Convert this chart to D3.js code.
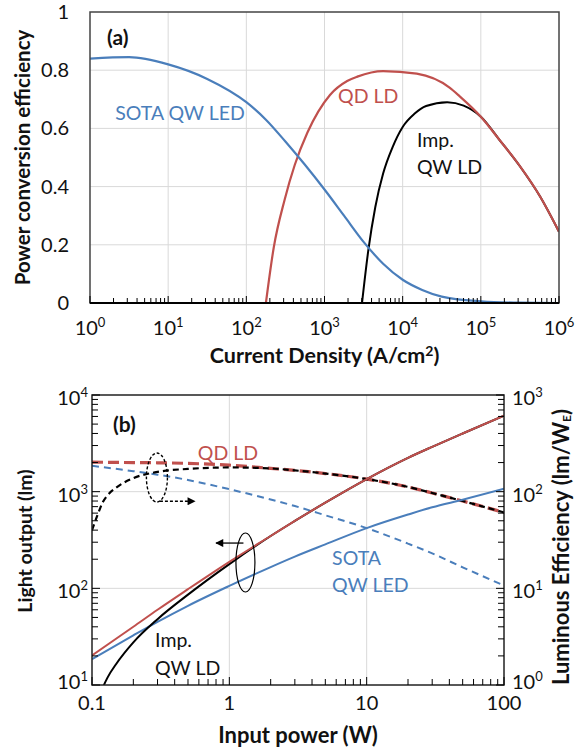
<!DOCTYPE html>
<html>
<head>
<meta charset="utf-8">
<script src="https://cdn.jsdelivr.net/npm/d3@7"></script>
<style>
  body { margin: 0; background: #fff; }
  svg { display: block; }
  text { font-family: Lato, "Open Sans", "DejaVu Sans", sans-serif; fill: #111; }
</style>
</head>
<body>
<svg id="chart" width="576" height="755"></svg>
<script>
// ---------- Panel (a): power conversion efficiency vs current density ----------
const ledJ   = [1, 3.16, 10, 31.6, 100, 178, 316, 562, 1000, 1778, 3162, 5623, 1e4, 17783, 31623, 1e5, 316228, 1e6];
const ledPCE = [0.84, 0.845, 0.82, 0.77, 0.69, 0.63, 0.555, 0.475, 0.39, 0.30, 0.21, 0.135, 0.08, 0.045, 0.022, 0.006, 0.001, 0.0];

const qdJ   = [178, 224, 309, 417, 603, 1175, 1950, 2630, 5623, 15136, 39811, 53703, 1e5, 173780, 316228, 575440, 1e6];
const qdPCE = [0, 0.19, 0.355, 0.475, 0.585, 0.715, 0.763, 0.778, 0.797, 0.788, 0.74, 0.71, 0.64, 0.56, 0.47, 0.365, 0.245];

const impJ   = [3020, 3631, 4467, 5623, 7413, 1e4, 14125, 19953, 37154, 60256, 1e5, 173780, 316228, 575440, 1e6];
const impPCE = [0, 0.18, 0.33, 0.445, 0.535, 0.605, 0.65, 0.677, 0.69, 0.678, 0.64, 0.56, 0.47, 0.365, 0.245];

const xTicksA = [1, 10, 100, 1e3, 1e4, 1e5, 1e6];
const yTicksA = [0, 0.2, 0.4, 0.6, 0.8, 1];

// ---------- Panel (b): light output and luminous efficiency vs input power ----------
const power    = [0.1, 0.2, 0.3, 0.5, 1, 2, 3, 5, 10, 20, 30, 50, 100];
const qdLight  = [20.2, 40, 60, 98, 188, 348, 498, 770, 1350, 2240, 2910, 4000, 6100];
const qdEff    = [202, 200, 199, 196, 188, 174, 166, 154, 135, 112, 97, 80, 61];
const ledLight = [18.5, 32.6, 45, 66, 106, 166, 213, 285, 420, 580, 690, 825, 1070];
const ledEff   = [185, 163, 150, 132, 106, 83, 71, 57, 42, 29, 23, 16.5, 10.7];

const impPower = [0.1, 0.11, 0.12, 0.13, 0.15, 0.2, 0.3, 0.5, 1, 2, 3, 5, 10, 20, 30, 50, 100];
const impLight = [4.0, 6.4, 9.4, 12, 16.5, 27.6, 48, 86, 178, 348, 498, 770, 1350, 2240, 2910, 4000, 6100];
const impEff   = [40, 58, 78, 92, 110, 138, 160, 172, 178, 174, 166, 154, 135, 112, 97, 80, 61];

const xTickLabelsB = ["0.1", "1", "10", "100"];
const xTicksB = [0.1, 1, 10, 100];
const yTicksBL = [10, 100, 1000, 10000];
const yTicksBR = [1, 10, 100, 1000];

const BLUE = "#4a7ebb", RED = "#c0504d", BLACK = "#000", GRID = "#d9d9d9";

const svg = d3.select("#chart");
const defs = svg.append("defs");
const zip = (xs, ys) => xs.map((x, i) => [x, ys[i]]);

// log-axis label "10^k"
function powLabel(sel, k) {
  sel.append("tspan").text("10");
  sel.append("tspan").attr("dy", -8).attr("font-size", 13).text(k);
}

// ============ Panel (a) ============
const A = { l: 90, r: 559, t: 12, b: 303 };
const xA = d3.scaleLog().domain([1, 1e6]).range([A.l, A.r]);
const yA = d3.scaleLinear().domain([0, 1]).range([A.b, A.t]);
const gA = svg.append("g");

defs.append("clipPath").attr("id", "clipA")
  .append("rect").attr("x", A.l).attr("y", A.t).attr("width", A.r - A.l).attr("height", A.b - A.t);

// grid
gA.selectAll(".gx").data(xTicksA.slice(1, -1)).join("line")
  .attr("x1", d => xA(d)).attr("x2", d => xA(d)).attr("y1", A.t).attr("y2", A.b)
  .attr("stroke", GRID).attr("stroke-width", 1);
gA.selectAll(".gy").data(yTicksA.slice(1, -1)).join("line")
  .attr("x1", A.l).attr("x2", A.r).attr("y1", d => yA(d)).attr("y2", d => yA(d))
  .attr("stroke", GRID).attr("stroke-width", 1);

// curves
const lineA = d3.line().x(d => xA(d[0])).y(d => yA(d[1])).curve(d3.curveMonotoneX);
const curvesA = gA.append("g").attr("clip-path", "url(#clipA)");
curvesA.append("path").datum(zip(impJ, impPCE)).attr("d", lineA)
  .attr("fill", "none").attr("stroke", BLACK).attr("stroke-width", 2);
curvesA.append("path").datum(zip(qdJ, qdPCE)).attr("d", lineA)
  .attr("fill", "none").attr("stroke", RED).attr("stroke-width", 2.2);
curvesA.append("path").datum(zip(ledJ, ledPCE)).attr("d", lineA)
  .attr("fill", "none").attr("stroke", BLUE).attr("stroke-width", 2.2);

// frame
gA.append("rect").attr("x", A.l).attr("y", A.t).attr("width", A.r - A.l).attr("height", A.b - A.t)
  .attr("fill", "none").attr("stroke", "#444").attr("stroke-width", 1.5);
gA.append("line").attr("x1", A.l).attr("x2", A.r).attr("y1", A.b).attr("y2", A.b)
  .attr("stroke", "#000").attr("stroke-width", 2);

// bottom log ticks (inside)
const minorA = [];
for (let e = 0; e < 6; e++) for (let m = 2; m <= 9; m++) minorA.push(m * Math.pow(10, e));
gA.selectAll(".mt").data(minorA).join("line")
  .attr("x1", d => xA(d)).attr("x2", d => xA(d)).attr("y1", A.b).attr("y2", A.b - 5)
  .attr("stroke", "#000").attr("stroke-width", 1);
gA.selectAll(".Mt").data(xTicksA).join("line")
  .attr("x1", d => xA(d)).attr("x2", d => xA(d)).attr("y1", A.b).attr("y2", A.b - 7)
  .attr("stroke", "#000").attr("stroke-width", 1);

// tick labels
gA.selectAll(".xl").data(xTicksA).join("text")
  .attr("x", d => xA(d)).attr("y", 335).attr("text-anchor", "middle").attr("font-size", 20)
  .each(function (d) { powLabel(d3.select(this), Math.round(Math.log10(d))); });
gA.selectAll(".yl").data(yTicksA).join("text")
  .attr("x", A.l - 21).attr("y", d => yA(d) + 7).attr("text-anchor", "end").attr("font-size", 20)
  .text(d => d === 0 || d === 1 ? String(d) : d.toFixed(1));

// axis titles
const tA = gA.append("text").attr("x", (A.l + A.r) / 2).attr("y", 363)
  .attr("text-anchor", "middle").attr("font-size", 21.5).attr("font-weight", "bold");
tA.append("tspan").text("Current Density (A/cm");
tA.append("tspan").attr("dy", -7).attr("font-size", 14).text("2");
tA.append("tspan").attr("dy", 7).text(")");
gA.append("text").attr("transform", `translate(30,${(A.t + A.b) / 2}) rotate(-90)`)
  .attr("text-anchor", "middle").attr("font-size", 20.5).attr("font-weight", "bold")
  .text("Power conversion efficiency");

// annotations
gA.append("text").attr("x", xA(1) + 17).attr("y", yA(0.885)).attr("font-size", 21).attr("font-weight", "bold").text("(a)");
gA.append("text").attr("x", xA(2.1)).attr("y", yA(0.63)).attr("font-size", 19.5).style("fill", BLUE).text("SOTA QW LED");
gA.append("text").attr("x", xA(1490)).attr("y", yA(0.687)).attr("font-size", 19.5).style("fill", RED).text("QD LD");
gA.append("text").attr("x", xA(15200)).attr("y", yA(0.536)).attr("font-size", 19.5).text("Imp.");
gA.append("text").attr("x", xA(15200)).attr("y", yA(0.443)).attr("font-size", 19.5).text("QW LD");

// ============ Panel (b) ============
const B = { l: 92, r: 504, t: 395, b: 685 };
const xB = d3.scaleLog().domain([0.1, 100]).range([B.l, B.r]);
const yBL = d3.scaleLog().domain([10, 10000]).range([B.b, B.t]);
const yBR = d3.scaleLog().domain([1, 1000]).range([B.b, B.t]);
const gB = svg.append("g");

defs.append("clipPath").attr("id", "clipB")
  .append("rect").attr("x", B.l).attr("y", B.t).attr("width", B.r - B.l).attr("height", B.b - B.t);

defs.append("marker").attr("id", "headR").attr("viewBox", "0 0 10 10").attr("refX", 9).attr("refY", 5)
  .attr("markerWidth", 9).attr("markerHeight", 8).attr("markerUnits", "userSpaceOnUse").attr("orient", "auto")
  .append("path").attr("d", "M0,0 L10,5 L0,10 Z").attr("fill", "#000");

// grid
gB.selectAll(".gx").data([1, 10]).join("line")
  .attr("x1", d => xB(d)).attr("x2", d => xB(d)).attr("y1", B.t).attr("y2", B.b)
  .attr("stroke", GRID).attr("stroke-width", 1);
gB.selectAll(".gy").data([100, 1000]).join("line")
  .attr("x1", B.l).attr("x2", B.r).attr("y1", d => yBL(d)).attr("y2", d => yBL(d))
  .attr("stroke", GRID).attr("stroke-width", 1);

const curvesB = gB.append("g").attr("clip-path", "url(#clipB)");
const lineL = d3.line().x(d => xB(d[0])).y(d => yBL(d[1])).curve(d3.curveMonotoneX);
const lineR = d3.line().x(d => xB(d[0])).y(d => yBR(d[1])).curve(d3.curveMonotoneX);

// efficiencies (right axis, dashed)
curvesB.append("path").datum(zip(power, ledEff)).attr("d", lineR)
  .attr("fill", "none").attr("stroke", BLUE).attr("stroke-width", 2).attr("stroke-dasharray", "7,5");
curvesB.append("path").datum(zip(power, qdEff)).attr("d", lineR)
  .attr("fill", "none").attr("stroke", RED).attr("stroke-width", 3.2).attr("stroke-dasharray", "11,5");
curvesB.append("path").datum(zip(impPower, impEff)).attr("d", lineR)
  .attr("fill", "none").attr("stroke", BLACK).attr("stroke-width", 2.2).attr("stroke-dasharray", "6,4");

// light output (left axis, solid)
curvesB.append("path").datum(zip(power, ledLight)).attr("d", lineL)
  .attr("fill", "none").attr("stroke", BLUE).attr("stroke-width", 2);
curvesB.append("path").datum(zip(impPower, impLight)).attr("d", lineL)
  .attr("fill", "none").attr("stroke", BLACK).attr("stroke-width", 2);
curvesB.append("path").datum(zip(power, qdLight)).attr("d", lineL)
  .attr("fill", "none").attr("stroke", RED).attr("stroke-width", 2);

// frame
gB.append("rect").attr("x", B.l).attr("y", B.t).attr("width", B.r - B.l).attr("height", B.b - B.t)
  .attr("fill", "none").attr("stroke", "#222").attr("stroke-width", 1.5);

// log ticks on left, right and bottom (inside)
const minorL = [], minorX = [];
for (let e = 1; e < 4; e++) for (let m = 2; m <= 9; m++) minorL.push(m * Math.pow(10, e));
for (let e = -1; e < 2; e++) for (let m = 2; m <= 9; m++) minorX.push(m * Math.pow(10, e));
const tickG = gB.append("g").attr("stroke", "#000").attr("stroke-width", 1);
tickG.selectAll(".tl").data(minorL.concat(yTicksBL)).join("line")
  .attr("x1", B.l).attr("x2", d => B.l + (yTicksBL.includes(d) ? 8 : 6))
  .attr("y1", d => yBL(d)).attr("y2", d => yBL(d));
tickG.selectAll(".tr").data(minorL.concat(yTicksBL)).join("line")
  .attr("x1", B.r).attr("x2", d => B.r - (yTicksBL.includes(d) ? 8 : 6))
  .attr("y1", d => yBL(d)).attr("y2", d => yBL(d));
tickG.selectAll(".tb").data(minorX.concat(xTicksB)).join("line")
  .attr("x1", d => xB(d)).attr("x2", d => xB(d))
  .attr("y1", B.b).attr("y2", d => B.b - (xTicksB.includes(d) ? 8 : 6));

// tick labels
gB.selectAll(".yl").data(yTicksBL).join("text")
  .attr("x", B.l - 4).attr("y", d => yBL(d) + (d === 10 ? 4 : 10)).attr("text-anchor", "end").attr("font-size", 20)
  .each(function (d) { powLabel(d3.select(this), Math.round(Math.log10(d))); });
gB.selectAll(".yr").data(yTicksBR).join("text")
  .attr("x", B.r + 8).attr("y", d => yBR(d) + (d === 1 ? 4 : 10)).attr("text-anchor", "start").attr("font-size", 20)
  .each(function (d) { powLabel(d3.select(this), Math.round(Math.log10(d))); });
gB.selectAll(".xl").data(xTicksB).join("text")
  .attr("x", d => xB(d)).attr("y", 710).attr("text-anchor", "middle").attr("font-size", 20)
  .text((d, i) => xTickLabelsB[i]);

// axis titles
gB.append("text").attr("x", (B.l + B.r) / 2).attr("y", 743).attr("text-anchor", "middle")
  .attr("font-size", 22).attr("font-weight", "bold").text("Input power (W)");
gB.append("text").attr("transform", `translate(32,541) rotate(-90)`)
  .attr("text-anchor", "middle").attr("font-size", 19.5).attr("font-weight", "bold")
  .text("Light output (lm)");
const tR = gB.append("text").attr("transform", `translate(569,547) rotate(-90)`)
  .attr("text-anchor", "middle").attr("font-size", 22).attr("font-weight", "bold");
tR.append("tspan").text("Luminous Efficiency (lm/W");
tR.append("tspan").attr("dy", 2).attr("font-size", 12).text("E");
tR.append("tspan").attr("dy", -2).text(")");

// annotations
gB.append("text").attr("x", B.l + 21).attr("y", yBL(4140)).attr("font-size", 21).attr("font-weight", "bold").text("(b)");
gB.append("text").attr("x", xB(0.59)).attr("y", yBL(2120)).attr("font-size", 19.5).style("fill", RED).text("QD LD");
gB.append("text").attr("x", xB(5.6)).attr("y", yBL(174)).attr("font-size", 19.5).style("fill", BLUE).text("SOTA");
gB.append("text").attr("x", xB(5.6)).attr("y", yBL(92)).attr("font-size", 19.5).style("fill", BLUE).text("QW LED");
gB.append("text").attr("x", xB(0.288)).attr("y", yBL(24.7)).attr("font-size", 19.5).text("Imp.");
gB.append("text").attr("x", xB(0.288)).attr("y", yBL(12.7)).attr("font-size", 19.5).text("QW LD");

// group markers: dashed ellipse pointing right (efficiency), solid ellipse pointing left (output)
const e1x = xB(0.297), e1y = yBL(1400);
gB.append("ellipse").attr("cx", e1x).attr("cy", e1y).attr("rx", 10.5).attr("ry", 24.5)
  .attr("fill", "none").attr("stroke", "#000").attr("stroke-width", 1.4).attr("stroke-dasharray", "3,2");
gB.append("line").attr("x1", e1x + 3).attr("x2", xB(0.56)).attr("y1", yBL(795)).attr("y2", yBL(795))
  .attr("stroke", "#000").attr("stroke-width", 1.4).attr("stroke-dasharray", "3,2")
  .attr("marker-end", "url(#headR)");

const e2x = xB(1.31), e2y = yBL(185);
gB.append("ellipse").attr("cx", e2x).attr("cy", e2y).attr("rx", 9.5).attr("ry", 29.5)
  .attr("fill", "none").attr("stroke", "#000").attr("stroke-width", 1.2);
gB.append("line").attr("x1", e2x - 2).attr("x2", xB(0.8)).attr("y1", yBL(294)).attr("y2", yBL(294))
  .attr("stroke", "#000").attr("stroke-width", 1.3)
  .attr("marker-end", "url(#headR)");
</script>
</body>
</html>
